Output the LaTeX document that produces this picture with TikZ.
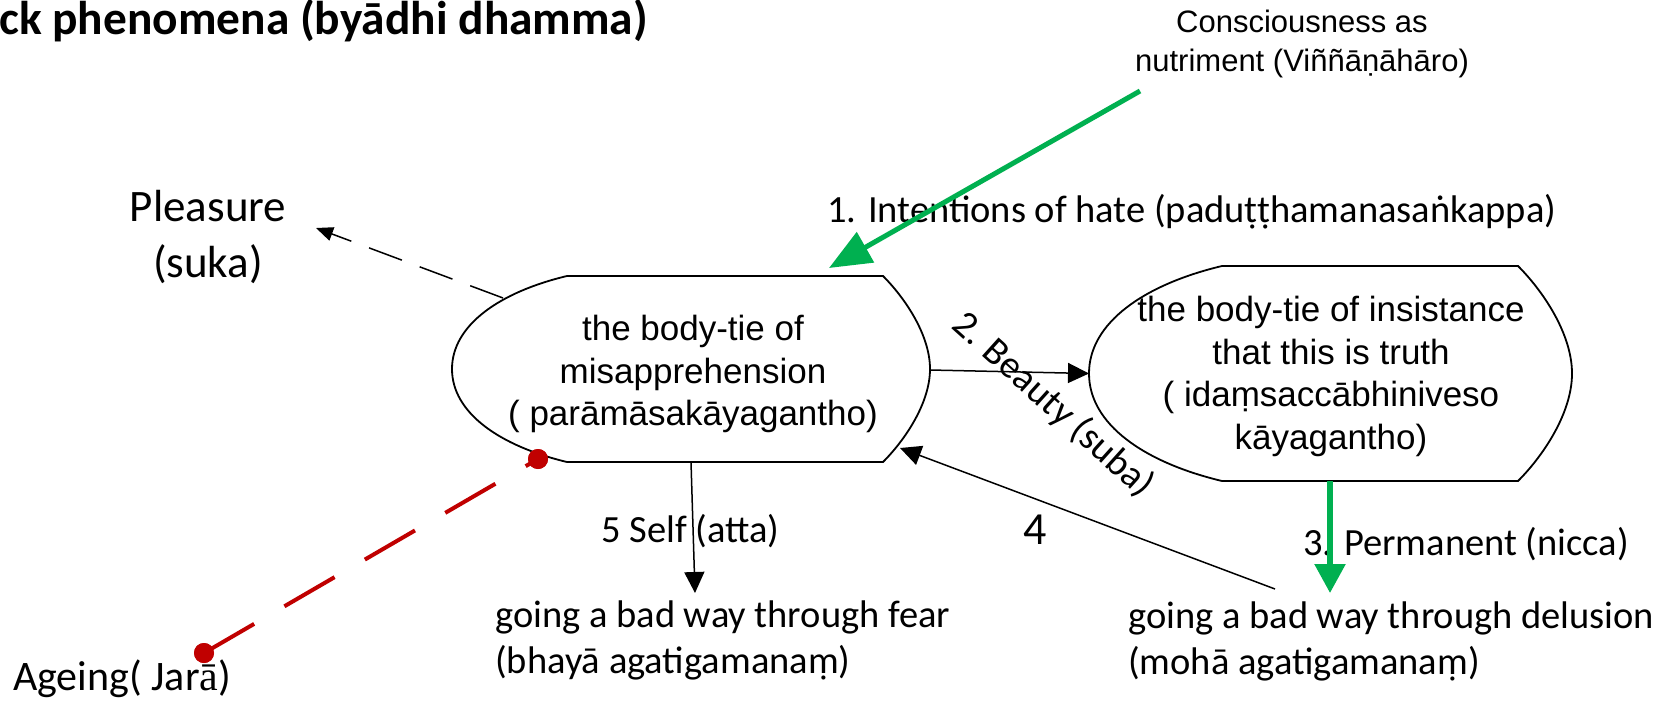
\documentclass[tikz,border=0pt]{standalone}
\usepackage{fontspec}
\setmainfont{Carlito}
\newfontfamily\arialf{Liberation Sans}
\newfontfamily\serf{Liberation Serif}
\usetikzlibrary{arrows.meta}
\definecolor{vgreen}{HTML}{00B050}
\definecolor{vred}{HTML}{C00000}
\begin{document}
\begin{tikzpicture}[x=1pt,y=-1pt,
  outline/.style={draw=black,line width=1.8pt,line join=miter},
  conn/.style={draw=black,line width=1.5pt,-{Triangle[length=21pt,width=20pt]}},
  dashconn/.style={draw=black,line width=1.5pt,dash pattern=on 35pt off 19pt,-{Triangle[length=17pt,width=14pt]}},
  greenbig/.style={draw=vgreen,line width=5pt,-{Triangle[length=42pt,width=34pt]}},
  greensmall/.style={draw=vgreen,line width=5.5pt,-{Triangle[length=29pt,width=30pt]}},
  redconn/.style={draw=vred,line width=4pt,dash pattern=on 58pt off 35pt},
  reddot/.style={circle,fill=vred,minimum size=20pt,inner sep=0pt},
  lbl/.style={font=\fontsize{38.5}{46}\selectfont,inner sep=0pt},
  boxtxt/.style={font=\arialf\fontsize{35}{42.5}\selectfont,align=center,inner sep=0pt}
]
\fill[white] (0,0) rectangle (1678,701);
\useasboundingbox (0,0) rectangle (1678,701);

% title
\node[anchor=base west,inner sep=0pt,font=\bfseries\fontsize{47.4}{56}\selectfont] (title) at (-1,35) {ck phenomena (byādhi dhamma)};

% shape 1 outline
\draw[outline] (567,276) -- (883,276) .. controls (905,298) and (930,335) .. (930,369)
  .. controls (930,403) and (905,440) .. (883,462) -- (567,462)
  .. controls (500,446) and (452,413) .. (452,369)
  .. controls (452,325) and (500,292) .. cycle;
% shape 2 outline
\draw[outline] (1222,266) -- (1518,266) .. controls (1543.4,291.4) and (1572,334.2) .. (1572,373.5)
  .. controls (1572,412.8) and (1543.4,455.6) .. (1518,481) -- (1222,481)
  .. controls (1144.5,462.5) and (1089,424.4) .. (1089,373.5)
  .. controls (1089,322.6) and (1144.5,284.5) .. cycle;

% shape texts
\node[boxtxt] (s1) at (693,374) {the body-tie of\\misapprehension\\( parāmāsakāyagantho)};
\node[boxtxt] (s2) at (1331,376.5) {the body-tie of insistance\\that this is truth\\( idaṃsaccābhiniveso\\kāyagantho)};

% other texts
\node[font=\arialf\fontsize{31}{38.5}\selectfont,align=center,inner sep=0pt] (consc) at (1302,44) {Consciousness as\\nutriment (Viññāṇāhāro)};
\node[lbl,anchor=base west] (intent) at (827,222) {1. Intentions of hate (paduṭṭhamanasaṅkappa)};
\node[font=\fontsize{45}{56}\selectfont,align=center,inner sep=0pt] (pleasure) at (208,237) {Pleasure\\(suka)};
\node[inner sep=0pt,anchor=base west,font=\fontsize{42}{50}\selectfont] (ageing) at (13,690) {Ageing( Jar{\serf ā})};
\node[lbl,align=left,anchor=west] (fear) at (495,640) {going a bad way through fear\\(bhayā agatigamanaṃ)};
\node[lbl,align=left,anchor=west] (delusion) at (1128,641) {going a bad way through delusion\\(mohā agatigamanaṃ)};
\node[lbl,anchor=base west] (self) at (601,542) {5 Self (atta)};
\node[inner sep=0pt,anchor=base,font=\fontsize{46}{54}\selectfont] (four) at (1035,544) {4};
\node[lbl,anchor=base west] (perm) at (1303,555) {3. Permanent (nicca)};
\node[lbl,rotate=-42] (beauty) at (1053,405) {2. Beauty (suba)};

% connector end points
\coordinate (s1E) at (930,370);
\coordinate (s2W) at (1089,373.5);
\coordinate (s1B) at (691,462);
\coordinate (s1Pl) at (503,298);
\coordinate (s1R4) at (900,448);
\coordinate (s2B) at (1330,481);
\coordinate (g1start) at (1140,91);
\coordinate (g1tip) at (829,268);
\coordinate (plTip) at (316,228);
\coordinate (fearTip) at (695,593);
\coordinate (delTip) at (1330,593);
\coordinate (del4) at (1275,589);
\node[reddot] (agedot) at (204,653) {};
\node[reddot] (s1dot) at (538,459) {};

% connectors
\draw[greenbig] (g1start) -- (g1tip);
\draw[conn] (s1E) -- (s2W);
\draw[greensmall] (s2B) -- (delTip);
\draw[conn] (del4) -- (s1R4);
\draw[conn] (s1B) -- (fearTip);
\draw[dashconn] (s1Pl) -- (plTip);
\draw[redconn] (agedot.center) -- (s1dot.center);
\node[reddot] at (agedot.center) {};
\node[reddot] at (s1dot.center) {};
\end{tikzpicture}
\end{document}
